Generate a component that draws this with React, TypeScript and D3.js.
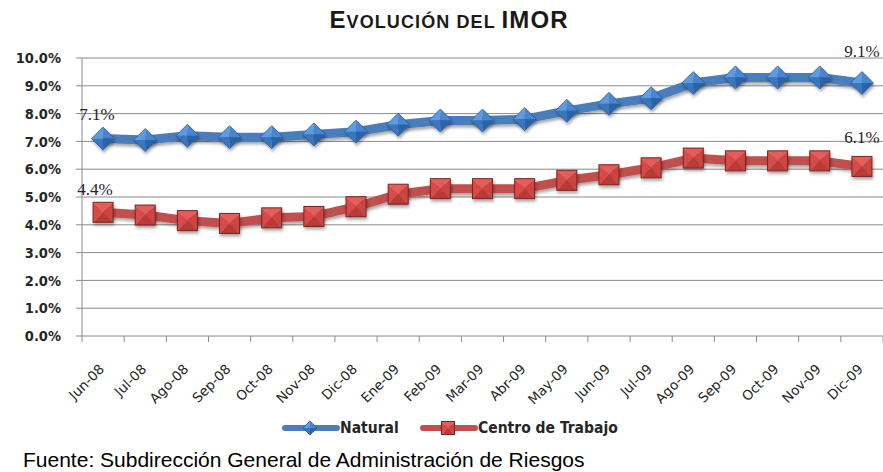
import React from "react";
import * as d3 from "d3";

const width = 883;
const height = 472;
const margin = { top: 58, right: 0, bottom: 136, left: 82 };

const categories = [
  "Jun-08", "Jul-08", "Ago-08", "Sep-08", "Oct-08", "Nov-08", "Dic-08",
  "Ene-09", "Feb-09", "Mar-09", "Abr-09", "May-09", "Jun-09", "Jul-09",
  "Ago-09", "Sep-09", "Oct-09", "Nov-09", "Dic-09",
];
const natural = [
  7.1, 7.05, 7.2, 7.15, 7.15, 7.25, 7.35, 7.6, 7.75, 7.75, 7.8, 8.1, 8.35,
  8.55, 9.1, 9.3, 9.3, 9.3, 9.1,
];
const centroTrabajo = [
  4.45, 4.35, 4.15, 4.05, 4.25, 4.3, 4.65, 5.1, 5.3, 5.3, 5.3, 5.6, 5.8,
  6.05, 6.4, 6.3, 6.3, 6.3, 6.1,
];
const yTicks = [0, 1, 2, 3, 4, 5, 6, 7, 8, 9, 10];

const blue = "#4a7ebb";
const red = "#c0504d";
const gridColor = "#8a8a8a";

// pyramid shaded diamond like the excel marker
function Diamond({ cx, cy, r }) {
  const t = [cx, cy - r], rt = [cx + r, cy], b = [cx, cy + r], l = [cx - r, cy];
  const c = [cx, cy];
  const tri = (a, b2, col) => (
    <path d={`M${a}L${b2}L${c}Z`} fill={col} />
  );
  return (
    <g>
      {tri(t, l, "#5f9be0")}
      {tri(t, rt, "#4886d2")}
      {tri(rt, b, "#2c63a8")}
      {tri(b, l, "#3a74bd")}
      <path d={`M${t}L${rt}L${b}L${l}Z`} fill="none" stroke="#2a5a98" strokeWidth={0.8} />
    </g>
  );
}

function Square({ cx, cy, r }) {
  const tl = [cx - r, cy - r], tr = [cx + r, cy - r];
  const br = [cx + r, cy + r], bl = [cx - r, cy + r];
  const c = [cx, cy];
  const tri = (a, b2, col) => (
    <path d={`M${a}L${b2}L${c}Z`} fill={col} />
  );
  return (
    <g>
      {tri(tl, tr, "#e35d5a")}
      {tri(tr, br, "#cc4441")}
      {tri(br, bl, "#b93a37")}
      {tri(bl, tl, "#d64c49")}
      <rect x={cx - r} y={cy - r} width={2 * r} height={2 * r} fill="none" stroke="#7d2220" strokeWidth={1} />
    </g>
  );
}

export default function App() {
  const x = d3
    .scaleBand()
    .domain(categories)
    .range([margin.left, width - margin.right]);
  const y = d3
    .scaleLinear()
    .domain([0, 10])
    .range([height - margin.bottom, margin.top]);
  const cx = (c) => x(c) + x.bandwidth() / 2;
  const line = d3
    .line()
    .x((d, i) => cx(categories[i]))
    .y((d) => y(d));

  const y0 = y(0);
  const last = categories.length - 1;
  const bounds = categories.map((c) => x(c)).concat([width - margin.right]);
  const legendFont = "'DejaVu Sans Condensed', 'DejaVu Sans', sans-serif";

  return (
    <div style={{ position: "absolute", left: 0, top: 0 }}>
      <svg width={width} height={height} style={{ display: "block", background: "#fff" }}>
        <defs>
          <filter id="shadow" x="-10%" y="-20%" width="120%" height="160%">
            <feDropShadow dx="1" dy="2.5" stdDeviation="1.6" floodColor="#000" floodOpacity="0.35" />
          </filter>
        </defs>

        <text
          x={449}
          y={28}
          textAnchor="middle"
          fontFamily="'Liberation Sans', Arial, sans-serif"
          fontWeight="bold"
          letterSpacing={1.1}
          fill="#1a1a1a"
        >
          <tspan fontSize={24}>E</tspan>
          <tspan fontSize={18}>VOLUCIÓN DEL </tspan>
          <tspan fontSize={24}>IMOR</tspan>
        </text>

        {/* grid + y axis */}
        {yTicks.map((t) => (
          <g key={t}>
            <line x1={margin.left - 6} x2={width - margin.right} y1={y(t)} y2={y(t)} stroke={gridColor} strokeWidth={1} />
            <text
              x={61}
              y={y(t)}
              dy="0.36em"
              textAnchor="end"
              fontFamily="'DejaVu Sans Condensed', 'DejaVu Sans', sans-serif"
              fontWeight="bold"
              fontSize={14.5}
              fill="#262626"
            >
              {t.toFixed(1)}%
            </text>
          </g>
        ))}
        <line x1={margin.left} x2={margin.left} y1={y(10)} y2={y0} stroke={gridColor} strokeWidth={1} />
        {bounds.map((b, i) => (
          <line key={i} x1={b} x2={b} y1={y0} y2={y0 + 6} stroke={gridColor} strokeWidth={1} />
        ))}
        {categories.map((c) => (
          <text
            key={c}
            transform={`translate(${cx(c) + 2},${y0 + 34}) rotate(-45)`}
            textAnchor="end"
            fontFamily="'DejaVu Sans', Verdana, sans-serif"
            fontSize={13.5}
            fill="#262626"
          >
            {c}
          </text>
        ))}

        {/* series */}
        <path d={line(natural)} fill="none" stroke={blue} strokeWidth={9} strokeLinejoin="round" filter="url(#shadow)" />
        <path d={line(centroTrabajo)} fill="none" stroke={red} strokeWidth={9} strokeLinejoin="round" filter="url(#shadow)" />
        <g filter="url(#shadow)">
          {natural.map((v, i) => (
            <Diamond key={i} cx={cx(categories[i])} cy={y(v)} r={11.5} />
          ))}
          {centroTrabajo.map((v, i) => (
            <Square key={i} cx={cx(categories[i])} cy={y(v)} r={10} />
          ))}
        </g>

        {/* data labels */}
        <g fontFamily="'Liberation Serif', 'Times New Roman', serif" fontSize={17} fill="#262626" textAnchor="middle">
          <text x={cx(categories[0]) - 6} y={y(natural[0]) - 19}>7.1%</text>
          <text x={cx(categories[0]) - 8} y={y(centroTrabajo[0]) - 17}>4.4%</text>
          <text x={cx(categories[last])} y={y(natural[last]) - 26}>9.1%</text>
          <text x={cx(categories[last])} y={y(centroTrabajo[last]) - 23}>6.1%</text>
        </g>

        {/* legend */}
        <g>
          <line x1={285} x2={337} y1={428} y2={428} stroke={blue} strokeWidth={6} strokeLinecap="round" />
          <Diamond cx={310} cy={428} r={7} />
          <text x={340} y={433} fontFamily={legendFont} fontWeight="bold" fontSize={15.5} fill="#262626">
            Natural
          </text>
          <line x1={423} x2={475} y1={428} y2={428} stroke={red} strokeWidth={6} strokeLinecap="round" />
          <Square cx={448} cy={428} r={6.5} />
          <text x={478} y={433} fontFamily={legendFont} fontWeight="bold" fontSize={15.5} fill="#262626">
            Centro de Trabajo
          </text>
        </g>

        <text x={23} y={467} fontFamily="'Liberation Sans', Arial, sans-serif" fontSize={21} fill="#000">
          Fuente: Subdirección General de Administración de Riesgos
        </text>
      </svg>
    </div>
  );
}
